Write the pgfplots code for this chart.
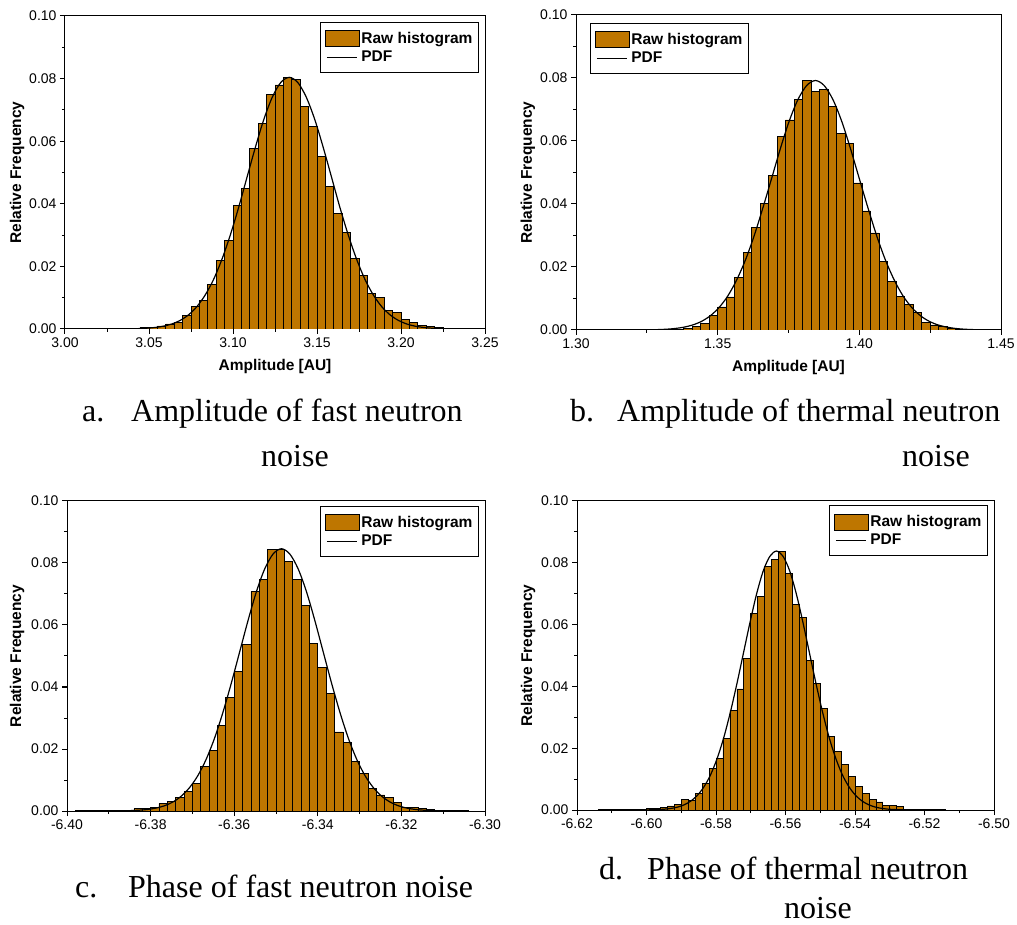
\documentclass[border=0pt]{standalone}
\usepackage{fontspec}
\setmainfont{Liberation Sans}
\newfontfamily\capfont{Liberation Serif}
\usepackage{pgfplots}
\pgfplotsset{compat=1.18}
\usepackage{pgfplotstable}

\definecolor{barbrown}{RGB}{190,118,0}

% ---------------- histogram bins: left edge, relative frequency ----------------
\pgfplotstableread{
x y
3.020 0.0002
3.025 0.0001
3.030 0.0002
3.035 0.0001
3.040 0.0002
3.045 0.0004
3.050 0.0006
3.055 0.0010
3.060 0.0016
3.065 0.0021
3.070 0.0044
3.075 0.0071
3.080 0.0092
3.085 0.0142
3.090 0.0219
3.095 0.0283
3.100 0.0394
3.105 0.0450
3.110 0.0576
3.115 0.0658
3.120 0.0749
3.125 0.0780
3.130 0.0804
3.135 0.0798
3.140 0.0712
3.145 0.0646
3.150 0.0552
3.155 0.0455
3.160 0.0368
3.165 0.0309
3.170 0.0225
3.175 0.0170
3.180 0.0114
3.185 0.0100
3.190 0.0059
3.195 0.0052
3.200 0.0031
3.205 0.0020
3.210 0.0012
3.215 0.0009
3.220 0.0004
3.225 0.0002
3.230 0.0001
3.235 0.0001
3.240 0
}\histA

\pgfplotstableread{
x y
3.0335 0.00003
3.0385 0.00006
3.0435 0.00012
3.0485 0.00025
3.0535 0.00048
3.0585 0.00089
3.0635 0.00159
3.0685 0.00273
3.0735 0.00451
3.0785 0.00715
3.0835 0.0109
3.0885 0.0159
3.0935 0.0224
3.0985 0.0302
3.1035 0.0391
3.1085 0.0488
3.1135 0.0584
3.1185 0.0672
3.1235 0.0742
3.1285 0.0788
3.1335 0.0804
3.1385 0.0788
3.1435 0.0742
3.1485 0.0672
3.1535 0.0584
3.1585 0.0488
3.1635 0.0391
3.1685 0.0302
3.1735 0.0224
3.1785 0.0159
3.1835 0.0109
3.1885 0.00715
3.1935 0.00451
3.1985 0.00273
3.2035 0.00159
3.2085 0.00089
3.2135 0.00048
3.2185 0.00025
3.2235 0.00012
3.2285 0.00006
3.2335 0.00003
}\pdfA

\pgfplotstableread{
x y
1.323 0.0001
1.326 0.0001
1.329 0.0001
1.332 0.0002
1.335 0.0003
1.338 0.0006
1.341 0.0011
1.344 0.0022
1.347 0.0046
1.350 0.0073
1.353 0.0105
1.356 0.0168
1.359 0.0246
1.362 0.0325
1.365 0.0401
1.368 0.0492
1.371 0.0614
1.374 0.0667
1.377 0.0733
1.380 0.0791
1.383 0.0757
1.386 0.0763
1.389 0.0709
1.392 0.0625
1.395 0.0593
1.398 0.0467
1.401 0.0378
1.404 0.0308
1.407 0.0218
1.410 0.0154
1.413 0.0106
1.416 0.0082
1.419 0.0056
1.422 0.0025
1.425 0.0016
1.428 0.0010
1.431 0.0005
1.434 0.0003
1.437 0.0002
1.440 0.0001
1.443 0.0001
1.446 0
}\histB

\pgfplotstableread{
x y
1.3225 0.00003
1.3256 0.00006
1.3287 0.00012
1.3318 0.00024
1.3349 0.00047
1.3380 0.00088
1.3411 0.00157
1.3442 0.00269
1.3473 0.00444
1.3504 0.00704
1.3535 0.0107
1.3566 0.0157
1.3597 0.0220
1.3628 0.0297
1.3659 0.0386
1.3690 0.0480
1.3721 0.0575
1.3752 0.0662
1.3783 0.0731
1.3814 0.0776
1.3845 0.0792
1.3876 0.0776
1.3907 0.0731
1.3938 0.0662
1.3969 0.0575
1.4000 0.0480
1.4031 0.0386
1.4062 0.0297
1.4093 0.0220
1.4124 0.0157
1.4155 0.0107
1.4186 0.00704
1.4217 0.00444
1.4248 0.00269
1.4279 0.00157
1.4310 0.00088
1.4341 0.00047
1.4372 0.00024
1.4403 0.00012
1.4434 0.00006
1.4465 0.00003
}\pdfB

\pgfplotstableread{
x y
-6.398 0.0001
-6.396 0.0001
-6.394 0.0001
-6.392 0.0001
-6.390 0.0002
-6.388 0.0002
-6.386 0.0003
-6.384 0.0008
-6.382 0.0009
-6.380 0.0012
-6.378 0.0024
-6.376 0.0031
-6.374 0.0044
-6.372 0.0062
-6.370 0.0089
-6.368 0.0145
-6.366 0.0195
-6.364 0.0276
-6.362 0.0366
-6.360 0.0450
-6.358 0.0538
-6.356 0.0708
-6.354 0.0747
-6.352 0.0843
-6.350 0.0845
-6.348 0.0805
-6.346 0.0747
-6.344 0.0663
-6.342 0.0540
-6.340 0.0463
-6.338 0.0379
-6.336 0.0255
-6.334 0.0221
-6.332 0.0161
-6.330 0.0121
-6.328 0.0073
-6.326 0.0052
-6.324 0.0045
-6.322 0.0027
-6.320 0.0012
-6.318 0.0011
-6.316 0.0008
-6.314 0.0005
-6.312 0.0002
-6.310 0.0001
-6.308 0.0001
-6.306 0.0001
-6.304 0
}\histC

\pgfplotstableread{
x y
-6.3887 0.00003
-6.3867 0.00006
-6.3847 0.00013
-6.3827 0.00026
-6.3807 0.00051
-6.3787 0.00094
-6.3767 0.00168
-6.3747 0.00288
-6.3727 0.00475
-6.3707 0.00752
-6.3687 0.0114
-6.3667 0.0167
-6.3647 0.0235
-6.3627 0.0318
-6.3607 0.0412
-6.3587 0.0513
-6.3567 0.0614
-6.3547 0.0707
-6.3527 0.0781
-6.3507 0.0829
-6.3487 0.0846
-6.3467 0.0829
-6.3447 0.0781
-6.3427 0.0707
-6.3407 0.0614
-6.3387 0.0513
-6.3367 0.0412
-6.3347 0.0318
-6.3327 0.0235
-6.3307 0.0167
-6.3287 0.0114
-6.3267 0.00752
-6.3247 0.00475
-6.3227 0.00288
-6.3207 0.00168
-6.3187 0.00094
-6.3167 0.00051
-6.3147 0.00026
-6.3127 0.00013
-6.3107 0.00006
-6.3087 0.00003
}\pdfC

\pgfplotstableread{
x y
-6.614 0.0001
-6.612 0.0001
-6.610 0.0001
-6.608 0.0001
-6.606 0.0001
-6.604 0.0002
-6.602 0.0003
-6.600 0.0004
-6.598 0.0006
-6.596 0.0009
-6.594 0.0013
-6.592 0.0019
-6.590 0.0033
-6.588 0.0032
-6.586 0.0054
-6.584 0.0085
-6.582 0.0134
-6.580 0.0166
-6.578 0.0233
-6.576 0.0323
-6.574 0.0392
-6.572 0.0491
-6.570 0.0636
-6.568 0.0692
-6.566 0.0789
-6.564 0.0810
-6.562 0.0838
-6.560 0.0765
-6.558 0.0665
-6.556 0.0622
-6.554 0.0485
-6.552 0.0411
-6.550 0.0328
-6.548 0.0237
-6.546 0.0190
-6.544 0.0148
-6.542 0.0110
-6.540 0.0075
-6.538 0.0055
-6.536 0.0035
-6.534 0.0026
-6.532 0.0016
-6.530 0.0014
-6.528 0.0011
-6.526 0.0003
-6.524 0.0002
-6.522 0.0002
-6.520 0.0001
-6.518 0.0001
-6.516 0.0001
-6.514 0
}\histD

\pgfplotstableread{
x y
-6.6006 0.00003
-6.5987 0.00006
-6.5968 0.00013
-6.5949 0.00026
-6.5930 0.00050
-6.5911 0.00093
-6.5892 0.00166
-6.5873 0.00285
-6.5854 0.00470
-6.5835 0.00745
-6.5816 0.0113
-6.5797 0.0166
-6.5778 0.0233
-6.5759 0.0315
-6.5740 0.0408
-6.5721 0.0508
-6.5702 0.0608
-6.5683 0.0700
-6.5664 0.0774
-6.5645 0.0821
-6.5626 0.0838
-6.5607 0.0821
-6.5588 0.0774
-6.5569 0.0700
-6.5550 0.0608
-6.5531 0.0508
-6.5512 0.0408
-6.5493 0.0315
-6.5474 0.0233
-6.5455 0.0166
-6.5436 0.0113
-6.5417 0.00745
-6.5398 0.00470
-6.5379 0.00285
-6.5360 0.00166
-6.5341 0.00093
-6.5322 0.00050
-6.5303 0.00026
-6.5284 0.00013
-6.5265 0.00006
-6.5246 0.00003
}\pdfD

% ---------------- common look of the four panels ----------------
\pgfplotsset{
  histo/.style={
    scale only axis,
    ymin=0, ymax=0.1,
    ytick={0,0.02,0.04,0.06,0.08,0.1},
    yticklabels={0.00,0.02,0.04,0.06,0.08,0.10},
    minor ytick={0.01,0.03,0.05,0.07,0.09},
    xtick pos=left, ytick pos=left,
    tick align=outside,
    major tick length=5pt, minor tick length=3pt,
    axis line style={line width=1pt, black},
    every tick/.style={black, line width=1pt},
    tick label style={font=\fontsize{14}{16}\selectfont},
    label style={font=\bfseries\fontsize{15.5}{18}\selectfont},
    ylabel={Relative Frequency},
    legend cell align=left,
    legend style={draw=black, line width=1pt,
      font=\bfseries\fontsize{15.5}{18}\selectfont,
      inner xsep=4pt, inner ysep=8pt, row sep=3pt,
      nodes={inner ysep=1pt}},
  },
  histbar/.style={ybar interval, fill=barbrown, draw=black, line width=0.7pt,
    legend image code/.code={\draw[fill=barbrown,draw=black,line width=0.8pt]
      (0pt,-8pt) rectangle (34pt,8pt);}},
  pdfline/.style={black, line width=1.2pt, smooth,
    legend image code/.code={\draw[black,line width=1.2pt] (2pt,0pt) -- (32pt,0pt);}},
}
\tikzset{capt/.style={inner sep=0pt, font=\capfont\fontsize{32}{38}\selectfont}}

\begin{document}
\begin{tikzpicture}
\useasboundingbox (0pt,0pt) rectangle (1017pt,924pt);

% (a) amplitude, fast neutron noise
\begin{axis}[histo, at={(65pt,595pt)}, anchor=south west,
  width=420pt, height=313pt,
  xmin=3.0, xmax=3.25,
  xtick={3.0,3.05,3.1,3.15,3.2,3.25},
  xticklabels={3.00,3.05,3.10,3.15,3.20,3.25},
  minor xtick={3.025,3.075,3.125,3.175,3.225},
  xlabel={Amplitude [AU]},
  xlabel style={at={(axis description cs:0.5,0)}, anchor=center, yshift=-37pt},
  ylabel style={at={(axis description cs:-0.114,0.5)}, anchor=center},
  legend style={at={(0.9857,0.981)}, anchor=north east}]
\addplot[histbar] table {\histA};
\addlegendentry{Raw histogram}
\addplot[pdfline] table {\pdfA};
\addlegendentry{PDF}
\end{axis}

% (b) amplitude, thermal neutron noise
\begin{axis}[histo, at={(576pt,594pt)}, anchor=south west,
  width=425pt, height=315pt,
  xmin=1.30, xmax=1.45,
  xtick={1.3,1.35,1.4,1.45},
  xticklabels={1.30,1.35,1.40,1.45},
  minor xtick={1.325,1.375,1.425},
  xlabel={Amplitude [AU]},
  xlabel style={at={(axis description cs:0.5,0)}, anchor=center, yshift=-37pt},
  ylabel style={at={(axis description cs:-0.113,0.5)}, anchor=center},
  legend style={at={(0.033,0.975)}, anchor=north west}]
\addplot[histbar] table {\histB};
\addlegendentry{Raw histogram}
\addplot[pdfline] table {\pdfB};
\addlegendentry{PDF}
\end{axis}

% (c) phase, fast neutron noise
\begin{axis}[histo, at={(67pt,113pt)}, anchor=south west,
  width=418pt, height=310pt,
  xmin=-6.40, xmax=-6.30,
  xtick={-6.40,-6.38,-6.36,-6.34,-6.32,-6.30},
  xticklabels={-6.40,-6.38,-6.36,-6.34,-6.32,-6.30},
  minor xtick={-6.39,-6.37,-6.35,-6.33,-6.31},
  ylabel style={at={(axis description cs:-0.1196,0.5)}, anchor=center},
  legend style={at={(0.9856,0.984)}, anchor=north east}]
\addplot[histbar] table {\histC};
\addlegendentry{Raw histogram}
\addplot[pdfline] table {\pdfC};
\addlegendentry{PDF}
\end{axis}

% (d) phase, thermal neutron noise
\begin{axis}[histo, at={(577pt,114pt)}, anchor=south west,
  width=417pt, height=309pt,
  xmin=-6.62, xmax=-6.50,
  xtick={-6.62,-6.60,-6.58,-6.56,-6.54,-6.52,-6.50},
  xticklabels={-6.62,-6.60,-6.58,-6.56,-6.54,-6.52,-6.50},
  minor xtick={-6.61,-6.59,-6.57,-6.55,-6.53,-6.51},
  ylabel style={at={(axis description cs:-0.1175,0.5)}, anchor=center},
  legend style={at={(0.9856,0.987)}, anchor=north east}]
\addplot[histbar] table {\histD};
\addlegendentry{Raw histogram}
\addplot[pdfline] table {\pdfD};
\addlegendentry{PDF}
\end{axis}

% sub-figure captions
\node[capt, anchor=base west] at (82pt,502pt) {a.};
\node[capt, anchor=base west] at (131pt,502pt) {Amplitude of fast neutron};
\node[capt, anchor=base] at (295pt,457pt) {noise};

\node[capt, anchor=base west] at (570pt,502pt) {b.};
\node[capt, anchor=base west] at (617pt,502pt) {Amplitude of thermal neutron};
\node[capt, anchor=base] at (936pt,457pt) {noise};

\node[capt, anchor=base west] at (75pt,27pt) {c.};
\node[capt, anchor=base west] at (128pt,27pt) {Phase of fast neutron noise};

\node[capt, anchor=base west] at (599pt,45pt) {d.};
\node[capt, anchor=base west] at (647pt,45pt) {Phase of thermal neutron};
\node[capt, anchor=base] at (818pt,6pt) {noise};
\end{tikzpicture}
\end{document}
